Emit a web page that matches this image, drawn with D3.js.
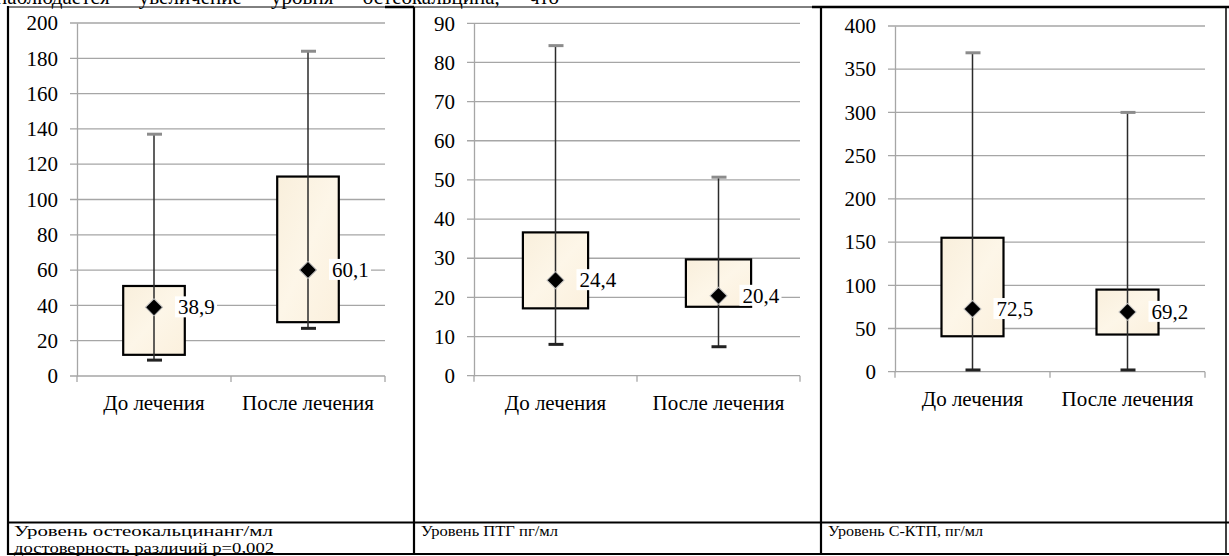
<!DOCTYPE html>
<html>
<head>
<meta charset="utf-8">
<script src="https://cdn.jsdelivr.net/npm/d3@7"></script>
<style>
  body { margin: 0; background: #fff; }
</style>
</head>
<body>
<div id="chart"></div>
<script>
// categories and box values (min, q1, q3, max, mean) for each table cell
const categories = ["До лечения", "После лечения"];

const osteoMin  = [9, 27];
const osteoQ1   = [12, 30.5];
const osteoQ3   = [51, 113];
const osteoMax  = [137, 184];
const osteoMean = [38.9, 60.1];

const ptgMin  = [8, 7.4];
const ptgQ1   = [17.2, 17.6];
const ptgQ3   = [36.6, 29.7];
const ptgMax  = [84.3, 50.7];
const ptgMean = [24.4, 20.4];

const ctpMin  = [2, 2];
const ctpQ1   = [41, 43];
const ctpQ3   = [155, 95];
const ctpMax  = [369, 300];
const ctpMean = [72.5, 69.2];

const yMaxes = [200, 90, 400];
const yStepTicks = [20, 10, 50];

const captions = [
  ["Уровень остеокальцинанг/мл", "достоверность различий р=0,002"],
  ["Уровень ПТГ пг/мл"],
  ["Уровень С-КТП, пг/мл"]
];
const captionWidths = [[259, 260], [137], [155]];

const W = 1229, H = 556;
const SERIF = "'Liberation Serif', 'Times New Roman', serif";

const svg = d3.select("#chart")
  .append("svg")
    .attr("width", W)
    .attr("height", H);

svg.append("rect").attr("width", W).attr("height", H).attr("fill", "#fff");

// cream gradient for the boxes
const grad = svg.append("defs").append("linearGradient")
  .attr("id", "boxfill")
  .attr("x1", "0").attr("y1", "0").attr("x2", "1").attr("y2", "1");
grad.append("stop").attr("offset", "0%").attr("stop-color", "#f9efdc");
grad.append("stop").attr("offset", "50%").attr("stop-color", "#fdf6e8");
grad.append("stop").attr("offset", "100%").attr("stop-color", "#fbf0dd");

// cut-off line of text above the table
svg.append("text")
  .attr("x", -4)
  .attr("y", 4)
  .style("font-family", SERIF)
  .style("font-size", "21px")
  .style("word-spacing", "24px")
  .text("наблюдается увеличение уровня остеокальцина, что");

// panel layout (where each plot sits inside its table cell)
const layout = [
  {left: 77,  right: 385,  top: 23,   bottom: 376},
  {left: 474, right: 800,  top: 23.3, bottom: 375.7},
  {left: 895, right: 1205, top: 26,   bottom: 371.7}
];

const panels = [
  {min: osteoMin, q1: osteoQ1, q3: osteoQ3, max: osteoMax, mean: osteoMean},
  {min: ptgMin,   q1: ptgQ1,   q3: ptgQ3,   max: ptgMax,   mean: ptgMean},
  {min: ctpMin,   q1: ctpQ1,   q3: ctpQ3,   max: ctpMax,   mean: ctpMean}
];

const fmt = v => String(v).replace(".", ",");

panels.forEach((p, i) => {
  const L = layout[i];
  const g = svg.append("g");

  const x = d3.scaleBand()
    .domain(categories)
    .range([L.left, L.right]);

  const y = d3.scaleLinear()
    .domain([0, yMaxes[i]])
    .range([L.bottom, L.top]);

  const ticks = d3.range(0, yMaxes[i] + 1, yStepTicks[i]);

  // gridlines
  g.selectAll(".grid")
    .data(ticks)
    .enter().append("line")
      .attr("x1", L.left - 7)
      .attr("x2", L.right)
      .attr("y1", d => y(d))
      .attr("y2", d => y(d))
      .attr("stroke", "#a6a6a6")
      .attr("stroke-width", 1.3);

  // y axis
  const yAxis = g.append("g")
    .attr("transform", "translate(" + L.left + ",0)")
    .call(d3.axisLeft(y).tickValues(ticks).tickSize(0).tickPadding(19));
  yAxis.select(".domain").attr("stroke", "#a6a6a6").attr("stroke-width", 1.3);
  yAxis.selectAll("text")
    .style("font-size", "21px")
    .style("font-family", SERIF)
    .attr("fill", "#000");

  // x axis boundary ticks
  const bounds = [L.left, L.left + x.bandwidth(), L.right];
  g.selectAll(".xtick")
    .data(bounds)
    .enter().append("line")
      .attr("x1", d => d).attr("x2", d => d)
      .attr("y1", L.bottom).attr("y2", L.bottom + 6)
      .attr("stroke", "#a6a6a6")
      .attr("stroke-width", 1.3);

  g.selectAll(".xlab")
    .data(categories)
    .enter().append("text")
      .attr("x", d => x(d) + x.bandwidth() / 2)
      .attr("y", L.bottom + 34)
      .attr("text-anchor", "middle")
      .style("font-family", SERIF)
      .style("font-size", "21px")
      .text(d => d);

  const bw = x.bandwidth() * 0.4;
  const cx = d => x(d) + x.bandwidth() / 2;

  // boxes
  g.selectAll(".box")
    .data(categories)
    .enter().append("rect")
      .attr("x", d => cx(d) - bw / 2)
      .attr("y", (d, j) => y(p.q3[j]))
      .attr("width", bw)
      .attr("height", (d, j) => y(p.q1[j]) - y(p.q3[j]))
      .attr("fill", "url(#boxfill)")
      .attr("stroke", "#000")
      .attr("stroke-width", 2.2);

  // whiskers
  g.selectAll(".whisk")
    .data(categories)
    .enter().append("line")
      .attr("x1", cx).attr("x2", cx)
      .attr("y1", (d, j) => y(p.max[j]))
      .attr("y2", (d, j) => y(p.min[j]))
      .attr("stroke", "#2b2b2b")
      .attr("stroke-width", 1.5);

  g.selectAll(".capTop")
    .data(categories)
    .enter().append("line")
      .attr("x1", d => cx(d) - 7).attr("x2", d => cx(d) + 8)
      .attr("y1", (d, j) => y(p.max[j]))
      .attr("y2", (d, j) => y(p.max[j]))
      .attr("stroke", "#8c8c8c")
      .attr("stroke-width", 3);

  g.selectAll(".capBot")
    .data(categories)
    .enter().append("line")
      .attr("x1", d => cx(d) - 7).attr("x2", d => cx(d) + 8)
      .attr("y1", (d, j) => y(p.min[j]))
      .attr("y2", (d, j) => y(p.min[j]))
      .attr("stroke", "#222")
      .attr("stroke-width", 3);

  // mean labels with white background
  g.selectAll(".labbg")
    .data(categories)
    .enter().append("rect")
      .attr("x", d => cx(d) + 21)
      .attr("y", (d, j) => y(p.mean[j]) - 11)
      .attr("width", 42)
      .attr("height", 21)
      .attr("fill", "#fff");

  g.selectAll(".lab")
    .data(categories)
    .enter().append("text")
      .attr("x", d => cx(d) + 24)
      .attr("y", (d, j) => y(p.mean[j]) + 7)
      .style("font-family", SERIF)
      .style("font-size", "21px")
      .text((d, j) => fmt(p.mean[j]));

  // mean diamonds
  g.selectAll(".mean")
    .data(categories)
    .enter().append("path")
      .attr("d", d3.symbol(d3.symbolSquare, 145))
      .attr("transform", (d, j) => "translate(" + cx(d) + "," + y(p.mean[j]) + ") rotate(45)")
      .attr("fill", "#000")
      .attr("stroke", "#bbb")
      .attr("stroke-width", 1);

  // caption in bottom row (squeezed a little, as in the source table)
  g.selectAll(".cap")
    .data(captions[i])
    .enter().append("text")
      .attr("transform", (d, k) => "translate(" + [14, 421, 828][i] + "," + (536 + k * 16.5) + ") scale(1,0.8)")
      .attr("textLength", (d, k) => captionWidths[i][k])
      .attr("lengthAdjust", "spacingAndGlyphs")
      .style("font-family", SERIF)
      .style("font-size", "19px")
      .text(d => d);
});

// table borders
const tableLines = [
  {x1: 8, y1: 7, x2: 1229, y2: 7, w: 1},
  {x1: 385, y1: 7, x2: 414, y2: 7, w: 2.5},
  {x1: 812, y1: 7, x2: 1229, y2: 7, w: 2.5},
  {x1: 8, y1: 6, x2: 8, y2: 555, w: 2.2},
  {x1: 414, y1: 7, x2: 414, y2: 555, w: 2.2},
  {x1: 821, y1: 7, x2: 821, y2: 555, w: 2.2},
  {x1: 1226, y1: 7, x2: 1226, y2: 555, w: 1.5},
  {x1: 8, y1: 522.5, x2: 1229, y2: 522.5, w: 2.2},
  {x1: 8, y1: 554, x2: 1229, y2: 554, w: 2}
];
svg.selectAll(".tbl")
  .data(tableLines)
  .enter().append("line")
    .attr("x1", d => d.x1).attr("y1", d => d.y1)
    .attr("x2", d => d.x2).attr("y2", d => d.y2)
    .attr("stroke", "#000")
    .attr("stroke-width", d => d.w);
</script>
</body>
</html>
